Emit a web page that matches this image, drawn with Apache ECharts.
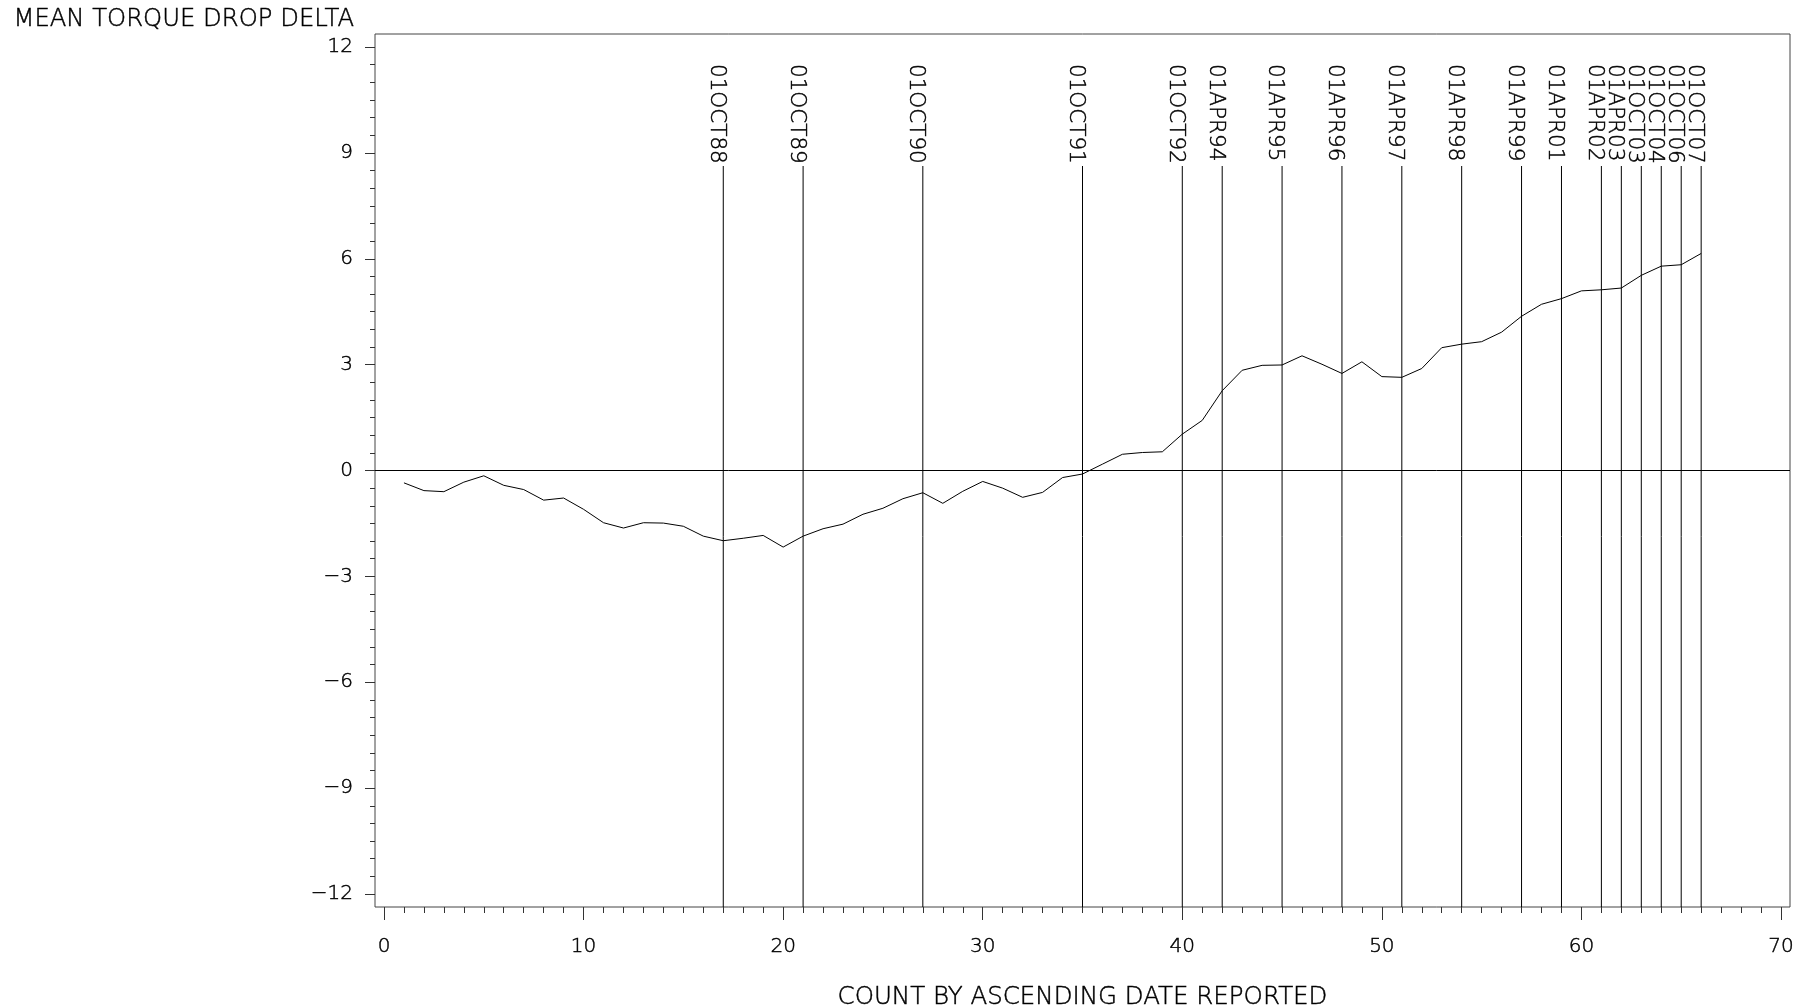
<!DOCTYPE html>
<html>
<head>
<meta charset="utf-8">
<title>Mean Torque Drop Delta</title>
<script src="https://cdn.jsdelivr.net/npm/echarts@6/dist/echarts.min.js"></script>
<style>
  html, body { margin: 0; padding: 0; background: #fff; }
  #chart { width: 1799px; height: 1007px; }
</style>
</head>
<body>
<div id="chart"></div>
<script>
// Report count (x) and running mean torque drop delta (y)
const counts = [
  1, 2, 3, 4, 5, 6, 7, 8, 9, 10, 11, 12, 13, 14, 15, 16, 17, 18, 19, 20, 21, 22,
  23, 24, 25, 26, 27, 28, 29, 30, 31, 32, 33, 34, 35, 36, 37, 38, 39, 40, 41, 42, 43, 44,
  45, 46, 47, 48, 49, 50, 51, 52, 53, 54, 55, 56, 57, 58, 59, 60, 61, 62, 63, 64, 65, 66
];
const meanDelta = [
  -0.35, -0.57, -0.60, -0.33, -0.15, -0.42, -0.54, -0.84, -0.78, -1.10,
  -1.48, -1.63, -1.48, -1.49, -1.58, -1.86, -1.99, -1.92, -1.84, -2.17,
  -1.86, -1.65, -1.52, -1.24, -1.07, -0.80, -0.63, -0.93, -0.59, -0.31,
  -0.50, -0.76, -0.62, -0.20, -0.10, 0.18, 0.46, 0.51, 0.53, 1.03,
  1.42, 2.26, 2.84, 2.98, 2.99, 3.25, 3.01, 2.75, 3.08, 2.66,
  2.64, 2.89, 3.48, 3.58, 3.65, 3.92, 4.37, 4.71, 4.87, 5.09,
  5.12, 5.17, 5.53, 5.79, 5.83, 6.15
];

// Reference dates marked along the count axis
const refCounts = [17, 21, 27, 35, 40, 42, 45, 48, 51, 54, 57, 59, 61, 62, 63, 64, 65, 66];
const refLabels = [
  '01OCT88', '01OCT89', '01OCT90', '01OCT91', '01OCT92', '01APR94', '01APR95',
  '01APR96', '01APR97', '01APR98', '01APR99', '01APR01', '01APR02', '01APR03',
  '01OCT03', '01OCT04', '01OCT06', '01OCT07'
];

// Axis ticks
const xMajorTicks = [0, 10, 20, 30, 40, 50, 60, 70];
const yMajorTicks = [-12, -9, -6, -3, 0, 3, 6, 9, 12];
const zeroLine = 0;

// ---- layout ----
const W = 1799, H = 1007;
const FRAME = { left: 375, top: 34, right: 9, bottom: 100 };
const PAD_X = 9, PAD_Y = 13;           // gap between frame and first/last tick
const FONT = '"DejaVu Sans", "Liberation Sans", sans-serif';
const INK = '#000';

const xLo = xMajorTicks[0], xHi = xMajorTicks[xMajorTicks.length - 1];
const yLo = yMajorTicks[0], yHi = yMajorTicks[yMajorTicks.length - 1];
const frameW = W - FRAME.left - FRAME.right;
const frameH = H - FRAME.top - FRAME.bottom;
const xPerPx = (xHi - xLo) / (frameW - 2 * PAD_X);
const yPerPx = (yHi - yLo) / (frameH - 2 * PAD_Y);
const xMin = xLo - PAD_X * xPerPx, xMax = xHi + PAD_X * xPerPx;
const yMin = yLo - PAD_Y * yPerPx, yMax = yHi + PAD_Y * yPerPx;

const xMinorTicks = [];
for (let v = xLo; v <= xHi; v += 1) if (xMajorTicks.indexOf(v) < 0) xMinorTicks.push(v);
const yMinorTicks = [];
for (let v = yLo; v <= yHi; v += 0.5) if (yMajorTicks.indexOf(v) < 0) yMinorTicks.push(v);

// thin, dark stroke-style lettering
const thinInk = { color: INK, fontFamily: FONT, fontWeight: 200, textBorderColor: INK, textBorderWidth: 0.45 };
const tickLine = { color: '#333', width: 1 };
const labelStyle = Object.assign({ fontSize: 20 }, thinInk);
const minus = v => (v < 0 ? '\u2212' : '') + Math.abs(v);
const noLine = { show: false, onZero: false };

const LABEL_TOP = 64;     // where the rotated date text starts
const LINE_TOP = 166;     // where the reference line starts below its text

const chart = echarts.init(document.getElementById('chart'), null, { renderer: 'canvas' });

chart.setOption({
  animation: false,
  backgroundColor: '#fff',
  grid: {
    left: FRAME.left, top: FRAME.top, right: FRAME.right, bottom: FRAME.bottom,
    containLabel: false, outerBoundsMode: 'none',
    show: true, borderColor: '#444', borderWidth: 1, backgroundColor: 'transparent'
  },
  xAxis: [
    {
      type: 'value', position: 'bottom', min: xMin, max: xMax,
      name: 'COUNT BY ASCENDING DATE REPORTED',
      nameLocation: 'middle', nameGap: 78,
      nameTextStyle: Object.assign({ fontSize: 24.5 }, thinInk),
      axisLine: noLine,
      axisTick: { show: true, inside: false, length: 13, lineStyle: tickLine, customValues: xMajorTicks },
      axisLabel: Object.assign({ show: true, margin: 30, customValues: xMajorTicks }, labelStyle),
      splitLine: { show: false }
    },
    {
      type: 'value', position: 'bottom', min: xMin, max: xMax,
      axisLine: noLine,
      axisTick: { show: true, inside: false, length: 6, lineStyle: tickLine, customValues: xMinorTicks },
      axisLabel: { show: false },
      splitLine: { show: false }
    }
  ],
  yAxis: [
    {
      type: 'value', position: 'left', min: yMin, max: yMax,
      name: 'MEAN TORQUE DROP DELTA',
      nameLocation: 'end', nameGap: 2,
      nameTextStyle: Object.assign({ fontSize: 24.3, align: 'right', padding: [0, 21, 0, 0] }, thinInk),
      axisLine: noLine,
      axisTick: { show: true, inside: false, length: 10, lineStyle: tickLine, customValues: yMajorTicks },
      axisLabel: Object.assign({ show: true, margin: 22, customValues: yMajorTicks, formatter: minus }, labelStyle),
      splitLine: { show: false }
    },
    {
      type: 'value', position: 'left', min: yMin, max: yMax,
      axisLine: noLine,
      axisTick: { show: true, inside: false, length: 5, lineStyle: tickLine, customValues: yMinorTicks },
      axisLabel: { show: false },
      splitLine: { show: false }
    }
  ],
  series: [
    {
      name: 'MEAN TORQUE DROP DELTA',
      type: 'line',
      xAxisIndex: 0, yAxisIndex: 0,
      data: counts.map((c, i) => [c, meanDelta[i]]),
      showSymbol: false, symbol: 'none',
      lineStyle: { color: INK, width: 1 },
      itemStyle: { color: INK },
      silent: true,
      markLine: {
        silent: true, symbol: 'none', label: { show: false },
        lineStyle: { color: INK, width: 1, type: 'solid' },
        data: [{ yAxis: zeroLine }]
      },
      z: 3
    },
    {
      name: 'Reference dates',
      type: 'custom',
      xAxisIndex: 0, yAxisIndex: 0,
      data: refCounts.map((c, i) => ({ value: [c, zeroLine], name: refLabels[i] })),
      encode: { x: 0, y: 1 },
      silent: true,
      clip: false,
      renderItem: function (params, api) {
        const x = api.coord([api.value(0), zeroLine])[0];
        const cs = params.coordSys;
        const bottom = cs.y + cs.height;
        return {
          type: 'group',
          children: [
            {
              type: 'line',
              shape: { x1: x, y1: LINE_TOP, x2: x, y2: bottom },
              style: { stroke: INK, lineWidth: 1 }
            },
            {
              type: 'text',
              x: x - 7, y: LABEL_TOP,
              rotation: -Math.PI / 2,
              style: {
                text: refLabels[params.dataIndex],
                fill: INK,
                stroke: INK, lineWidth: 0.45,
                font: '200 21.5px ' + FONT,
                align: 'left', verticalAlign: 'middle'
              }
            }
          ]
        };
      },
      z: 2
    }
  ]
});
</script>
</body>
</html>
